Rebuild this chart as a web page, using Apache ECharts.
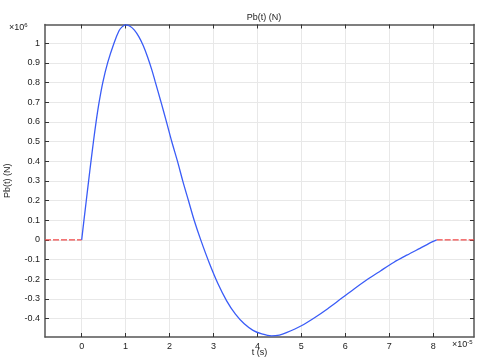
<!DOCTYPE html>
<html>
<head>
<meta charset="utf-8">
<script src="https://cdn.jsdelivr.net/npm/echarts@6/dist/echarts.min.js"></script>
<style>html,body{margin:0;padding:0;background:#fff}#c{width:482px;height:363px}</style>
</head>
<body>
<div id="c"></div>
<script>
// t in units of 1e-5 s, Pb in units of 1e6 N
const tValues  = [0, 0.052, 0.105, 0.158, 0.212, 0.268, 0.328, 0.397, 0.48, 0.59, 0.735, 0.85, 0.92, 1.0, 1.1, 1.2, 1.3, 1.4, 1.5, 1.6, 1.67, 1.80, 1.93, 2.05, 2.18, 2.30, 2.43, 2.56, 2.71, 2.9, 3.1, 3.3, 3.5, 3.7, 3.9, 4.1, 4.32, 4.5, 4.66, 5.0, 5.3, 5.6, 5.9, 6.2, 6.5, 6.8, 7.1, 7.4, 7.7, 8.0, 8.08];
const pbValues = [0, 0.1, 0.2, 0.3, 0.4, 0.5, 0.6, 0.7, 0.8, 0.9, 1.0, 1.063, 1.083, 1.093, 1.086, 1.066, 1.033, 0.988, 0.93, 0.862, 0.807, 0.705, 0.6, 0.5, 0.4, 0.3, 0.2, 0.1, 0, -0.115, -0.222, -0.31, -0.378, -0.427, -0.46, -0.478, -0.488, -0.484, -0.472, -0.437, -0.396, -0.35, -0.3, -0.25, -0.202, -0.158, -0.115, -0.078, -0.043, -0.008, 0];
const leftExtT  = [-0.835, 0];
const leftExtV  = [0, 0];
const rightExtT = [8.08, 8.93];
const rightExtV = [0, 0];
const xTicks = [0, 1, 2, 3, 4, 5, 6, 7, 8];
const yTicks = [-0.4, -0.3, -0.2, -0.1, 0, 0.1, 0.2, 0.3, 0.4, 0.5, 0.6, 0.7, 0.8, 0.9, 1];
const xRange = [-0.835, 8.93];
const yRange = [-0.494, 1.095];

const FONT = 'Liberation Sans';
const axisCol = '#555';
const zip = (a, b) => a.map((v, i) => [v, b[i]]);
const fmt = v => String(Math.round(v * 10) / 10);

const chart = echarts.init(document.getElementById('c'));
const baseAxis = {
  axisLine: { show: true, onZero: false, lineStyle: { color: axisCol, width: 1.5 } },
  axisTick: { show: true, inside: true, length: 4, lineStyle: { color: '#333', width: 1 } },
};
const txt = { fontFamily: FONT, fontSize: 9, fill: '#222' };
chart.setOption({
  animation: false,
  textStyle: { fontFamily: FONT },
  title: { text: 'Pb(t) (N)', left: 259, top: 8, textAlign: 'center',
    textStyle: { fontFamily: FONT, fontSize: 9, fontWeight: 'normal', color: '#222' } },
  grid: { left: 45, right: 8, top: 24.5, bottom: 26, containLabel: false, outerBoundsMode: 'none' },
  xAxis: [
    Object.assign({}, baseAxis, {
      type: 'value', min: xRange[0], max: xRange[1], position: 'bottom',
      axisTick: Object.assign({}, baseAxis.axisTick, { customValues: xTicks }),
      axisLabel: { customValues: xTicks, formatter: fmt, fontFamily: FONT, fontSize: 9, color: '#222', margin: 5 },
      splitLine: { show: true, lineStyle: { color: '#e8e8e8', width: 1 } }
    }),
    Object.assign({}, baseAxis, {
      type: 'value', min: xRange[0], max: xRange[1], position: 'top',
      axisTick: Object.assign({}, baseAxis.axisTick, { customValues: xTicks }),
      axisLabel: { show: false }, splitLine: { show: false }
    })
  ],
  yAxis: [
    Object.assign({}, baseAxis, {
      type: 'value', min: yRange[0], max: yRange[1], position: 'left',
      name: 'Pb(t) (N)', nameLocation: 'middle', nameGap: 33, nameRotate: 90,
      nameTextStyle: { fontFamily: FONT, fontSize: 9, color: '#222' },
      axisTick: Object.assign({}, baseAxis.axisTick, { customValues: yTicks }),
      axisLabel: { customValues: yTicks, formatter: fmt, fontFamily: FONT, fontSize: 9, color: '#222', margin: 5 },
      splitLine: { show: true, lineStyle: { color: '#e8e8e8', width: 1 } }
    }),
    Object.assign({}, baseAxis, {
      type: 'value', min: yRange[0], max: yRange[1], position: 'right',
      axisTick: Object.assign({}, baseAxis.axisTick, { customValues: yTicks }),
      axisLabel: { show: false }, splitLine: { show: false }
    })
  ],
  graphic: [
    { type: 'text', x: 259.5, y: 353, style: Object.assign({ text: 't (s)', align: 'center', verticalAlign: 'middle' }, txt) },
    { type: 'text', left: 9, top: 22, style: { rich: { a: txt, s: { fontFamily: FONT, fontSize: 6, fill: '#222', padding: [0, 0, 6, 0] } }, text: '{a|×10}{s|6}' } },
    { type: 'text', left: 452, top: 339, style: { rich: { a: txt, s: { fontFamily: FONT, fontSize: 6, fill: '#222', padding: [0, 0, 6, 0] } }, text: '{a|×10}{s|-5}' } }
  ],
  series: [
    { type: 'line', data: zip(tValues, pbValues), smooth: 0.3, showSymbol: false,
      lineStyle: { color: '#3a5cf7', width: 1.3 }, z: 3 },
    { type: 'line', data: zip(leftExtT, leftExtV), showSymbol: false,
      lineStyle: { color: '#f04848', width: 1.3, type: [6, 2] }, z: 2 },
    { type: 'line', data: zip(rightExtT, rightExtV), showSymbol: false,
      lineStyle: { color: '#f04848', width: 1.3, type: [6, 2] }, z: 2 }
  ]
});
</script>
</body>
</html>
